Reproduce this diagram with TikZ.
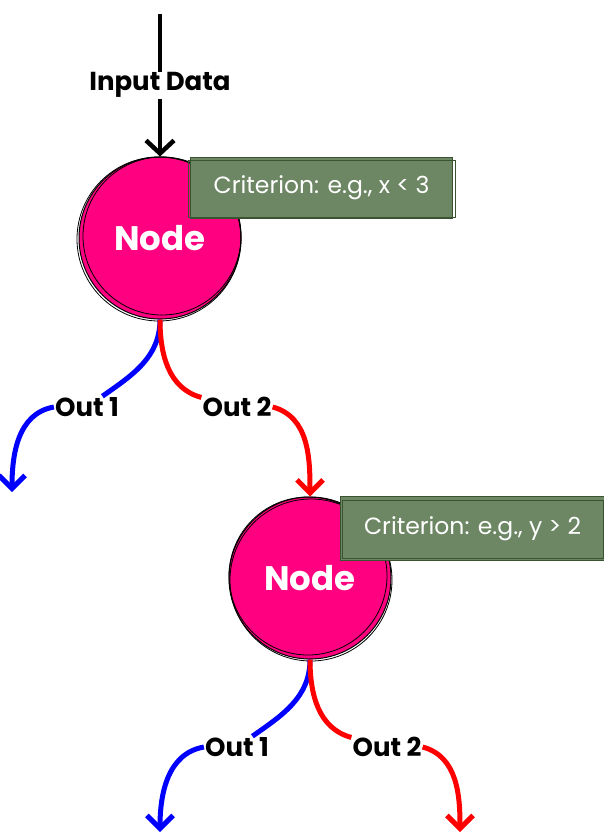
\documentclass[tikz,border=0pt]{standalone}
\usepackage{fontspec}
\setmainfont{Poppins}
\usetikzlibrary{arrows.meta, positioning, calc}
\definecolor{nodepink}{HTML}{FF0080}
\definecolor{critfill}{HTML}{6D8764}
\definecolor{critline}{HTML}{3A5431}

\begin{document}
\begin{tikzpicture}[
  x = 1pt, y = -1pt,
  every node/.style = {font=\bfseries\fontsize{26}{30}\selectfont},
  decision/.style = {
    circle, fill=nodepink, draw=black, line width=1pt,
    minimum size=162pt, inner sep=0pt,
    text=white, font=\bfseries\fontsize{34}{38}\selectfont
  },
  crit/.style = {
    rectangle, fill=critfill, draw=critline, line width=1.2pt,
    minimum width=262pt, minimum height=61pt, inner sep=0pt,
    text=white, font=\fontsize{23.5}{26}\selectfont
  },
  lbl/.style = {fill=white, inner sep=1pt},
  rough/.style = {draw=black, line width=0.8pt},
  critrough/.style = {draw=critline, line width=0.8pt},
  inarr/.style = {line width=4.5pt, -{Straight Barb[length=13pt, width=28pt]}},
  bluearr/.style = {line width=5pt, blue, -{Straight Barb[length=13pt, width=26pt]}},
  redarr/.style = {line width=5pt, red, -{Straight Barb[length=13pt, width=26pt]}},
  blueln/.style = {line width=5pt, blue},
  redln/.style = {line width=5pt, red}
]
\useasboundingbox (0,0) rectangle (604,834);

% Nodes
\node[decision] (n1) at (160,238) {Node};
\draw[rough] ($(n1.center)+(2,-2)$) circle (79pt);
\draw[rough] ($(n1.center)+(-1,1)$) circle (82pt);
\node[crit, anchor=north west] (crit1) at (190,157) {Criterion: e.g., x < 3};
\draw[critrough] ($(crit1.north west)+(-2,3)$) rectangle ($(crit1.south east)+(2,-2)$);

\node[decision] (n2) at (310,578) {Node};
\draw[rough] ($(n2.center)+(-2,-2)$) circle (79pt);
\draw[rough] ($(n2.center)+(1,2)$) circle (81pt);
\node[crit, anchor=north west, minimum width=264pt, minimum height=64pt] (crit2) at (340,496) {Criterion: e.g., y > 2};
\draw[critrough] ($(crit2.north west)+(2,4)$) rectangle ($(crit2.south east)+(-2,-3)$);

% Labels
\node[lbl] (o11) at (87,407) {Out 1};
\node[lbl] (o12) at (237,407) {Out 2};
\node[lbl] (o21) at (237,747) {Out 1};
\node[lbl] (o22) at (387,747) {Out 2};

% End points
\coordinate (src) at (160,14);
\coordinate (e11) at (12,492);
\coordinate (e21) at (160,832);
\coordinate (e22) at (460,832);

% Arrows
\draw[inarr] (src) -- node[lbl] {Input Data} (n1);
\draw[blueln] (n1.south) to[out=-90, in=35] (o11);
\draw[bluearr] (o11.west) to[out=190, in=90] (e11);
\draw[redln] (n1.south) to[out=-90, in=165] (o12);
\draw[redarr] (o12.east) to[out=-15, in=90] (n2);

\draw[blueln] (n2.south) to[out=-90, in=35] (o21);
\draw[bluearr] (o21.west) to[out=190, in=90] (e21);
\draw[redln] (n2.south) to[out=-90, in=165] (o22);
\draw[redarr] (o22.east) to[out=-15, in=90] (e22);

\end{tikzpicture}
\end{document}
